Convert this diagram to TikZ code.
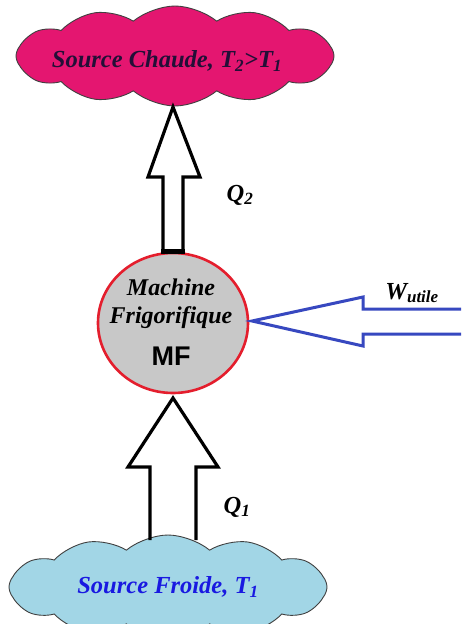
\documentclass[tikz,border=0pt]{standalone}
\usepackage{fontspec}
\setmainfont{Liberation Serif}
\setsansfont{Liberation Sans}
\usetikzlibrary{shapes.symbols,shapes.geometric,calc}
\definecolor{hotpink}{RGB}{228,22,112}
\definecolor{coldblue}{RGB}{162,214,230}
\definecolor{mfgray}{RGB}{200,200,200}
\definecolor{mfred}{RGB}{228,30,45}
\definecolor{warrow}{RGB}{55,72,192}
\definecolor{hottext}{RGB}{35,15,55}
\definecolor{coldtext}{RGB}{25,25,225}
\tikzset{
  cloudbox/.style={cloud, cloud puffs=12, cloud puff arc=80, cloud ignores aspect,
     draw=black!75, line width=0.9pt, inner sep=0pt},
  lbl/.style={font=\bfseries\itshape\fontsize{24.5}{27}\selectfont, inner sep=0pt},
  hollowarrow/.style={draw=black, line width=3.2pt, fill=white, line join=miter},
}
\begin{document}
\begin{tikzpicture}[x=1pt,y=-1pt]
\useasboundingbox (0,0) rectangle (461,624);
\clip (0,0) rectangle (461,624);
\fill[white] (0,0) rectangle (461,624);
% clouds
\node[cloudbox, fill=hotpink, minimum width=318pt, minimum height=100pt] (hot) at (175,56) {};
\node[lbl, text=hottext] (hottxt) at (167,61) {Source Chaude, T\textsubscript{2}>T\textsubscript{1}};
\node[cloudbox, fill=coldblue, minimum width=318pt, minimum height=104pt] (cold) at (168,587) {};
\node[lbl, text=coldtext] (coldtxt) at (168,587) {Source Froide, T\textsubscript{1}};
% machine
\node[ellipse, draw=mfred, fill=mfgray, line width=2.6pt, minimum width=150pt, minimum height=140pt] (mf) at (173,323) {};
\node[lbl, font=\bfseries\itshape\fontsize{24}{26}\selectfont] (m1) at (171,287) {Machine};
\node[lbl, font=\bfseries\itshape\fontsize{24}{26}\selectfont] (m2) at (171,318) {Frigorifique};
\node[inner sep=0pt, font=\sffamily\bfseries\fontsize{27}{30}\selectfont] (m3) at (171,356) {MF};
% upper arrow Q2
\coordinate (t2) at (173,107);
\draw[hollowarrow] (163,252) -- (163,177) -- (148,177) -- (t2) -- (200,177) -- (183,177) -- (183,252) -- cycle;
\draw[black, line width=5pt] (161.4,251) -- (184.6,251);
\node[lbl] (q2) at (240,195) {Q\textsubscript{2}};
% lower arrow Q1
\coordinate (t1) at (173,398);
\draw[hollowarrow, fill=none] (150,540) -- (150,467) -- (128,467) -- (t1) -- (218,467) -- (196,467) -- (196,540);
\node[lbl] (q1) at (237,507) {Q\textsubscript{1}};
% work arrow
\coordinate (tw) at (252,321);
\draw[warrow, line width=3pt, line join=miter] (475,309) -- (363,309) -- (363,297) -- (tw) -- (363,346) -- (363,334) -- (475,334);
\node[lbl] (w) at (412,293) {W\textsubscript{\fontsize{17}{18}\selectfont utile}};
\end{tikzpicture}
\end{document}
